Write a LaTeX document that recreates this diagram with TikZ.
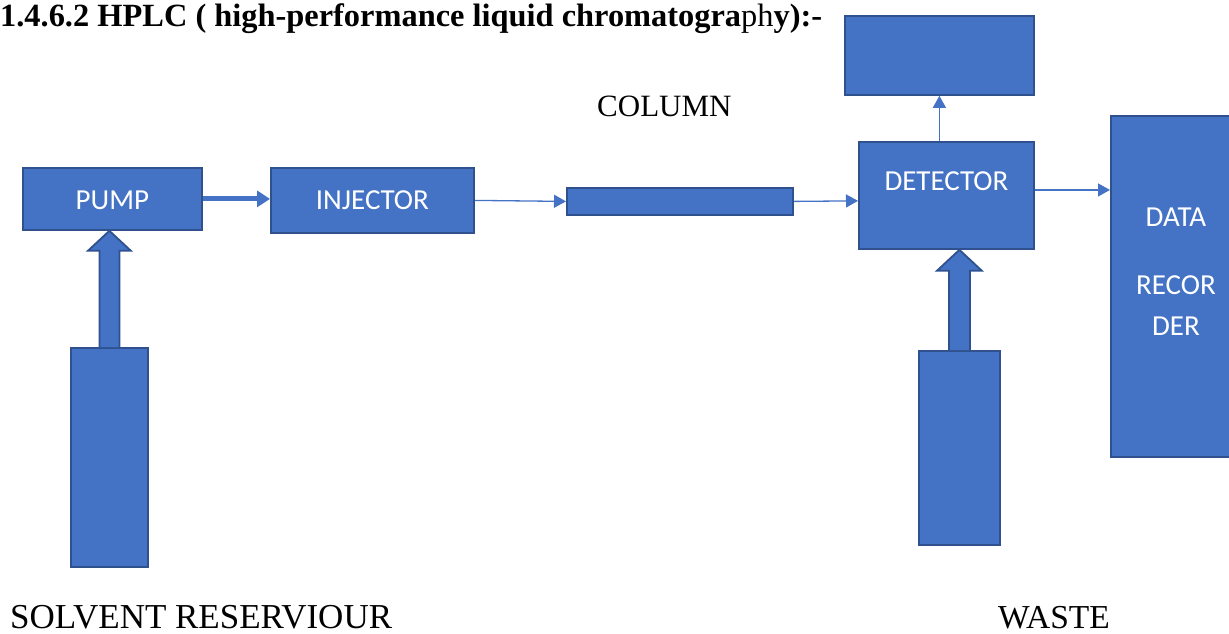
\documentclass[tikz,border=0pt]{standalone}
\usepackage{fontspec}
\setmainfont{Liberation Serif}
\newfontfamily\boxfont{Carlito}
\usetikzlibrary{arrows.meta,calc}

\definecolor{boxfill}{HTML}{4472C4}
\definecolor{boxline}{HTML}{2F528F}

\tikzset{
  unit box/.style={draw=boxline, line width=1.8pt, fill=boxfill, inner sep=0pt,
    rectangle, anchor=north west},
  boxtext/.style={text=white, font=\boxfont\fontsize{29}{31}\selectfont, inner sep=0pt},
  caption/.style={font=\fontsize{35}{38}\selectfont, inner sep=0pt, anchor=base west},
  flow/.style={draw=boxfill, line width=1.3pt, -{Triangle[length=12pt,width=13pt]}},
  thickflow/.style={draw=boxfill, line width=5pt, -{Triangle[length=13pt,width=16pt]}},
  blockarrow/.style={draw=boxline, line width=1.8pt, fill=boxfill, line join=miter},
}

\begin{document}
\begin{tikzpicture}[x=1pt, y=-1pt]
  \useasboundingbox (0,0) rectangle (1229,633);
  \clip (0,0) rectangle (1229,633);

  % heading
  \node[caption, font=\bfseries\fontsize{32.4}{34}\selectfont] (title) at (0,26)
    {1.4.6.2 HPLC ( high-performance liquid chromatogra{\mdseries ph}y):-};

  % instrument blocks (pixel-sized rectangles)
  \node[unit box, minimum width=179pt, minimum height=62pt] (pump) at (22,167) {};
  \node[unit box, minimum width=203pt, minimum height=65pt] (inj)  at (270,167) {};
  \node[unit box, minimum width=226pt, minimum height=27pt] (col)  at (566,187) {};
  \node[unit box, minimum width=175pt, minimum height=107pt] (det) at (858,141) {};
  \node[unit box, minimum width=189pt, minimum height=79pt] (top)  at (844,15) {};
  \node[unit box, minimum width=130pt, minimum height=341pt] (rec) at (1110,115) {};
  \node[unit box, minimum width=77pt, minimum height=219pt] (res)  at (70,347) {};
  \node[unit box, minimum width=81pt, minimum height=194pt] (waste) at (918,350) {};

  % block labels
  \node[boxtext] (pumplbl) at ($(pump.center)+(0,1)$) {PUMP};
  \node[boxtext] (injlbl) at (inj.center) {INJECTOR};
  \node[boxtext] (detlbl) at ($(det.center)+(0,-14)$) {DETECTOR};
  \node[boxtext] (reclbl1) at ($(rec.north)+(0,102)$) {DATA};
  \node[boxtext] (reclbl2) at ($(rec.north)+(0,170)$) {RECOR};
  \node[boxtext] (reclbl3) at ($(rec.north)+(0,211)$) {DER};

  % plain captions
  \node[caption, font=\fontsize{31}{34}\selectfont] (collbl) at (597,116) {COLUMN};
  \node[caption] (reslbl) at (10,628) {SOLVENT RESERVIOUR};
  \node[caption, font=\fontsize{33.5}{36}\selectfont] (wastelbl) at (998,628) {WASTE};

  % flow connectors
  \draw[thickflow] (pump.east) -- (pump.east -| inj.west);
  \draw[flow] (inj.east) -- (col.west);
  \draw[flow] (col.east) -- ($(det.north west)!0.55!(det.south west)$);
  \coordinate (detout) at ($(det.north east)!0.45!(det.south east)$);
  \draw[flow] (detout) -- (detout -| rec.west);
  \coordinate (detup) at (det.north -| top.south);
  \draw[flow] (detup) -- (top.south);

  % block arrow from the solvent reservoir into the pump
  \coordinate (stip) at (res.north |- pump.south);
  \draw[blockarrow]
    ($(res.north)+(-10,0)$) -- ($(stip)+(-10,20)$) -- ($(stip)+(-21.5,20)$) --
    (stip) -- ($(stip)+(21.5,20)$) -- ($(stip)+(10,20)$) --
    ($(res.north)+(10,0)$);

  % block arrow between the waste vessel and the detector
  \coordinate (wtip) at (waste.north |- det.south);
  \draw[blockarrow]
    ($(waste.north)+(-10.5,0)$) -- ($(wtip)+(-10.5,21)$) -- ($(wtip)+(-22.5,21)$) --
    (wtip) -- ($(wtip)+(22.5,21)$) -- ($(wtip)+(10.5,21)$) --
    ($(waste.north)+(10.5,0)$);
\end{tikzpicture}
\end{document}
